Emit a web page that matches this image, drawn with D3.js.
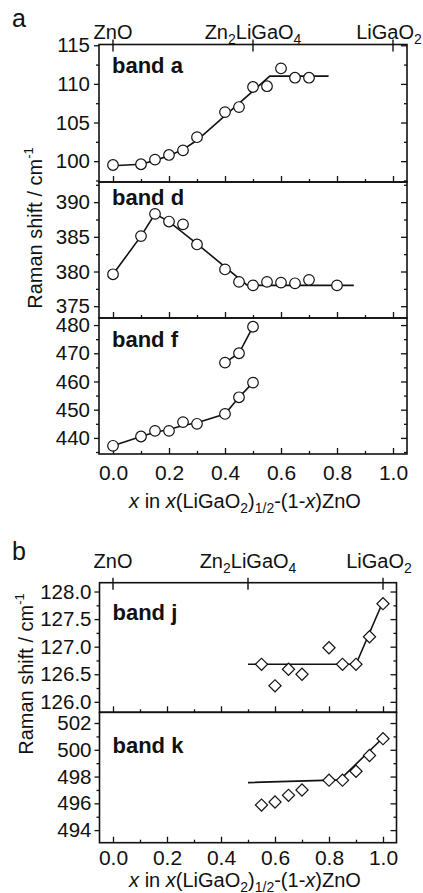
<!DOCTYPE html>
<html>
<head>
<meta charset="utf-8">
<script src="https://cdn.jsdelivr.net/npm/d3@7"></script>
<style>
  body { margin: 0; background: #fff; }
  svg text { font-family: "Liberation Sans", Arial, sans-serif; fill: #111; }
</style>
</head>
<body>
<script>
// ---- data ----
const xTickLabels = [0, 0.2, 0.4, 0.6, 0.8, 1.0];
const xMinorTicks = [0.1, 0.3, 0.5, 0.7, 0.9];
const compounds = [0, 0.5, 1];   // ZnO, Zn2LiGaO4, LiGaO2

// band a
const xA = [0, 0.1, 0.15, 0.2, 0.25, 0.3, 0.4, 0.45, 0.5, 0.55, 0.6, 0.65, 0.7];
const bandA = [99.5, 99.6, 100.2, 100.8, 101.4, 103.1, 106.35, 107.0, 109.6, 109.7, 112.0, 110.8, 110.8];
const fitAx = [0, 0.1, 0.15, 0.2, 0.25, 0.3, 0.56, 0.77];
const fitAy = [99.4, 99.6, 100.1, 100.7, 101.5, 102.7, 111.0, 111.0];
const ticksA = [100, 105, 110, 115];
const minorA = [97.5, 102.5, 107.5, 112.5];

// band d
const xD = [0, 0.1, 0.15, 0.2, 0.25, 0.3, 0.4, 0.45, 0.5, 0.55, 0.6, 0.65, 0.7, 0.8];
const bandD = [379.6, 385.1, 388.3, 387.2, 386.8, 383.9, 380.3, 378.5, 378.0, 378.5, 378.4, 378.3, 378.8, 378.0];
const fitDx = [0, 0.1, 0.15, 0.2, 0.3, 0.48, 0.86];
const fitDy = [379.6, 385.1, 388.3, 387.2, 384.0, 378.0, 378.0];
const ticksD = [375, 380, 385, 390];
const minorD = [377.5, 382.5, 387.5, 392.5];

// band f (two branches)
const xF1 = [0, 0.1, 0.15, 0.2, 0.25, 0.3, 0.4, 0.45, 0.5];
const bandF1 = [437.2, 440.5, 442.5, 442.5, 445.6, 445.0, 448.5, 454.4, 459.6];
const fitF1y = [437.2, 440.5, 442.0, 443.0, 444.4, 445.4, 448.5, 454.4, 459.6];
const xF2 = [0.4, 0.45, 0.5];
const bandF2 = [466.7, 470.0, 479.4];
const ticksF = [440, 450, 460, 470, 480];
const minorF = [435, 445, 455, 465, 475];

// band j
const xJ = [0.55, 0.6, 0.65, 0.7, 0.8, 0.85, 0.9, 0.95, 1.0];
const bandJ = [126.68, 126.29, 126.59, 126.5, 126.98, 126.68, 126.68, 127.18, 127.78];
const fitJx = [0.5, 0.9, 1.0];
const fitJy = [126.68, 126.68, 127.82];
const ticksJ = [126.0, 126.5, 127.0, 127.5, 128.0];
const minorJ = [126.25, 126.75, 127.25, 127.75];

// band k
const xK = [0.55, 0.6, 0.65, 0.7, 0.8, 0.85, 0.9, 0.95, 1.0];
const bandK = [495.87, 496.1, 496.6, 497.0, 497.73, 497.73, 498.4, 499.57, 500.83];
const fitKx = [0.5, 0.84, 1.0];
const fitKy = [497.55, 497.75, 500.9];
const ticksK = [494, 496, 498, 500, 502];
const minorK = [493, 495, 497, 499, 501];

const W = 423, H = 893;
const svg = d3.select('body').append('svg').attr('width', W).attr('height', H);

const xa = d3.scaleLinear().domain([-0.05, 1.05]).range([99, 407]);
const xb = d3.scaleLinear().domain([-0.05, 1.05]).range([99.5, 396.5]);

function zip(xs, ys) { return xs.map((v, i) => [v, ys[i]]); }

function diamond(g, x, y, pts) {
  g.selectAll(null).data(pts).enter().append('rect')
    .attr('x', -4.3).attr('y', -4.3).attr('width', 8.6).attr('height', 8.6)
    .attr('transform', d => `translate(${x(d[0])},${y(d[1])}) rotate(45)`)
    .attr('fill', '#fff').attr('stroke', '#111').attr('stroke-width', 1.2);
}

function drawBand(c) {
  const g = svg.append('g');
  const y = d3.scaleLinear().domain(c.domain).range([c.bottom, c.top]);
  const x = c.x;
  const [x0, x1] = x.range();
  const minor = c.minor.filter(v => v > c.domain[0] && v < c.domain[1]);

  // left axis
  g.append('g').attr('transform', `translate(${x0},0)`)
    .call(d3.axisLeft(y).tickValues(c.major).tickSize(5).tickPadding(c.pad || 4).tickFormat(d3.format(c.fmt)))
    .call(a => a.select('.domain').remove())
    .call(a => a.selectAll('text').attr('font-size', 20.5).attr('font-family', null))
    .call(a => a.selectAll('line').attr('stroke', '#111').attr('stroke-width', 1.3));
  g.append('g').attr('transform', `translate(${x0},0)`)
    .call(d3.axisLeft(y).tickValues(minor).tickSize(3).tickFormat(''))
    .call(a => a.select('.domain').remove())
    .call(a => a.selectAll('line').attr('stroke', '#111').attr('stroke-width', 1.3));

  // right axis, ticks inward
  [[c.major, 6], [minor, 3]].forEach(([tv, s]) => {
    g.append('g').attr('transform', `translate(${x1},0)`)
      .call(d3.axisLeft(y).tickValues(tv).tickSize(s).tickFormat(''))
      .call(a => a.select('.domain').remove())
      .call(a => a.selectAll('line').attr('stroke', '#111').attr('stroke-width', 1.3));
  });

  // bottom ticks, inward
  [[xTickLabels, 6], [xMinorTicks, 3]].forEach(([tv, s]) => {
    g.append('g').attr('transform', `translate(0,${c.bottom})`)
      .call(d3.axisTop(x).tickValues(tv).tickSize(s).tickFormat(''))
      .call(a => a.select('.domain').remove())
      .call(a => a.selectAll('line').attr('stroke', '#111').attr('stroke-width', 1.3));
  });

  if (c.xLabels) {
    g.append('g').attr('transform', `translate(0,${c.bottom})`)
      .call(d3.axisBottom(x).tickValues(xTickLabels).tickSize(0).tickPadding(c.xpad).tickFormat(d3.format('.1f')))
      .call(a => a.select('.domain').remove())
      .call(a => a.selectAll('text').attr('font-size', 21).attr('font-family', null));
  }

  if (c.compoundTicks) {
    g.selectAll(null).data(compounds).enter().append('line')
      .attr('x1', d => x(d)).attr('x2', d => x(d))
      .attr('y1', c.top - 5).attr('y2', c.top + 7)
      .attr('stroke', '#111').attr('stroke-width', 1.4);
  }

  // frame
  g.append('rect').attr('x', x0).attr('y', c.top).attr('width', x1 - x0).attr('height', c.bottom - c.top)
    .attr('fill', 'none').attr('stroke', '#111').attr('stroke-width', 1.6);

  const line = d3.line().x(d => x(d[0])).y(d => y(d[1]));
  c.fits.forEach(f => {
    g.append('path').attr('d', line(f)).attr('fill', 'none').attr('stroke', '#111').attr('stroke-width', 1.6);
  });

  c.series.forEach(s => {
    if (c.marker === 'circle') {
      g.selectAll(null).data(s).enter().append('circle')
        .attr('cx', d => x(d[0])).attr('cy', d => y(d[1])).attr('r', 5.3)
        .attr('fill', '#fff').attr('stroke', '#111').attr('stroke-width', 1.2);
    } else {
      diamond(g, x, y, s);
    }
  });

  g.append('text').attr('x', x0 + 13).attr('y', c.top + c.labelDy)
    .attr('font-size', 22).attr('font-weight', 'bold').text(c.label);
}

function compoundLabels(x, base) {
  const g = svg.append('g').attr('font-size', 20).attr('text-anchor', 'middle');
  g.append('text').attr('x', x(0)).attr('y', base).text('ZnO');
  const t = g.append('text').attr('x', x(0.5)).attr('y', base);
  t.append('tspan').text('Zn');
  t.append('tspan').attr('font-size', 14).attr('dy', 5).text('2');
  t.append('tspan').attr('dy', -5).text('LiGaO');
  t.append('tspan').attr('font-size', 14).attr('dy', 5).text('4');
  const t2 = g.append('text').attr('x', x(1) - 4).attr('y', base);
  t2.append('tspan').text('LiGaO');
  t2.append('tspan').attr('font-size', 14).attr('dy', 5).text('2');
}

function xTitle(cx, base) {
  const t = svg.append('text').attr('x', cx).attr('y', base).attr('font-size', 20).attr('text-anchor', 'middle');
  t.append('tspan').attr('font-style', 'italic').text('x');
  t.append('tspan').text(' in ');
  t.append('tspan').attr('font-style', 'italic').text('x');
  t.append('tspan').text('(LiGaO');
  t.append('tspan').attr('font-size', 14).attr('dy', 4.5).text('2');
  t.append('tspan').attr('dy', -4.5).text(')');
  t.append('tspan').attr('font-size', 14).attr('dy', 4.5).text('1/2');
  t.append('tspan').attr('dy', -4.5).text('-(1-');
  t.append('tspan').attr('font-style', 'italic').text('x');
  t.append('tspan').text(')ZnO');
}

function yTitle(cx, cy) {
  const t = svg.append('text').attr('transform', `translate(${cx},${cy}) rotate(-90)`)
    .attr('font-size', 20).attr('text-anchor', 'middle');
  t.append('tspan').text('Raman shift  /  cm');
  t.append('tspan').attr('font-size', 13).attr('dy', -9).text('-1');
}

// ---- panel a ----
svg.append('text').attr('x', 12).attr('y', 27).attr('font-size', 25).text('a');
compoundLabels(xa, 39);
drawBand({ x: xa, top: 44.5, bottom: 182, domain: [97.3, 115.1], major: ticksA, minor: minorA, fmt: 'd',
  label: 'band a', labelDy: 28, marker: 'circle', compoundTicks: true,
  fits: [zip(fitAx, fitAy)], series: [zip(xA, bandA)] });
drawBand({ x: xa, top: 182, bottom: 318, domain: [373.3, 392.9], major: ticksD, minor: minorD, fmt: 'd',
  label: 'band d', labelDy: 23, marker: 'circle',
  fits: [zip(fitDx, fitDy)], series: [zip(xD, bandD)] });
drawBand({ x: xa, top: 318, bottom: 454, domain: [434.3, 482.5], major: ticksF, minor: minorF, fmt: 'd',
  label: 'band f', labelDy: 29, marker: 'circle', xLabels: true, xpad: 11,
  fits: [zip(xF1, fitF1y), zip(xF2, bandF2)], series: [zip(xF1, bandF1), zip(xF2, bandF2)] });
xTitle(245, 508);
yTitle(42, 228);

// ---- panel b ----
svg.append('text').attr('x', 12).attr('y', 560).attr('font-size', 25).text('b');
compoundLabels(xb, 568);
drawBand({ x: xb, top: 582.7, bottom: 712.3, domain: [125.81, 128.16], major: ticksJ, minor: minorJ, fmt: '.1f',
  label: 'band j', labelDy: 37, marker: 'diamond', compoundTicks: true, pad: 3,
  fits: [zip(fitJx, fitJy)], series: [zip(xJ, bandJ)] });
drawBand({ x: xb, top: 712.3, bottom: 842.7, domain: [493.06, 502.8], major: ticksK, minor: minorK, fmt: 'd',
  label: 'band k', labelDy: 41, marker: 'diamond', xLabels: true, pad: 3, xpad: 7,
  fits: [zip(fitKx, fitKy)], series: [zip(xK, bandK)] });
xTitle(245, 887);
yTitle(33, 674);
</script>
</body>
</html>
